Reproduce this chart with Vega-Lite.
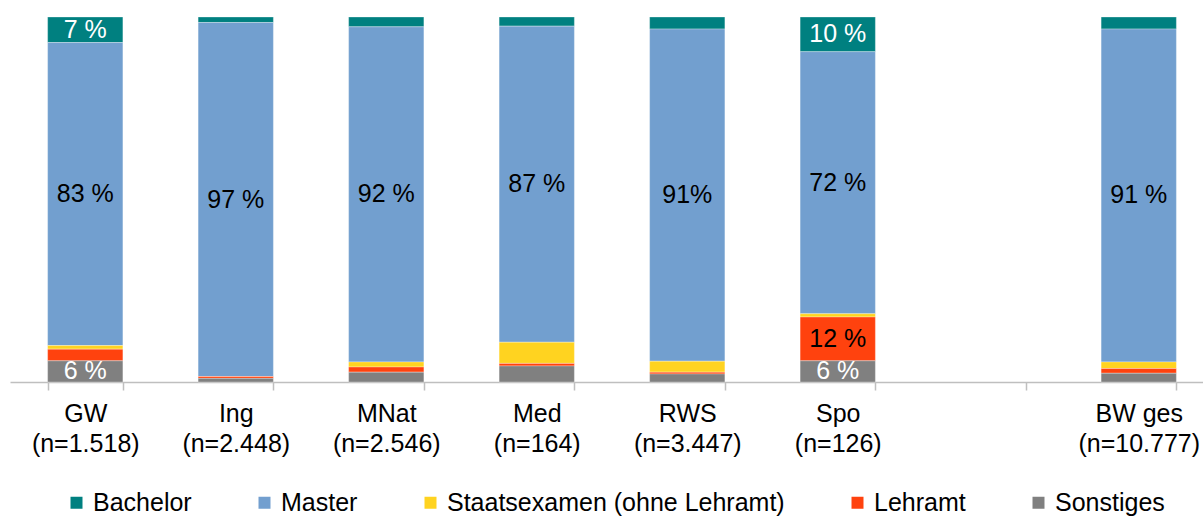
{
  "$schema": "https://vega.github.io/schema/vega-lite/v6.json",
  "width": 1193,
  "height": 365,
  "autosize": "none",
  "padding": {"left": 10, "top": 17, "right": 0, "bottom": 134},
  "background": "white",
  "config": {"font": "Liberation Sans", "view": {"stroke": null}},
  "data": {"values": [
    {"cat": "GW|(n=1.518)", "s": "Bachelor", "k": 5, "v": 7, "lab": "7 %"},
    {"cat": "GW|(n=1.518)", "s": "Master", "k": 4, "v": 83, "lab": "83 %"},
    {"cat": "GW|(n=1.518)", "s": "Staatsexamen (ohne Lehramt)", "k": 3, "v": 1, "lab": ""},
    {"cat": "GW|(n=1.518)", "s": "Lehramt", "k": 2, "v": 3.2, "lab": ""},
    {"cat": "GW|(n=1.518)", "s": "Sonstiges", "k": 1, "v": 5.8, "lab": "6 %"},
    {"cat": "Ing|(n=2.448)", "s": "Bachelor", "k": 5, "v": 1.5, "lab": ""},
    {"cat": "Ing|(n=2.448)", "s": "Master", "k": 4, "v": 97, "lab": "97 %"},
    {"cat": "Ing|(n=2.448)", "s": "Staatsexamen (ohne Lehramt)", "k": 3, "v": 0, "lab": ""},
    {"cat": "Ing|(n=2.448)", "s": "Lehramt", "k": 2, "v": 0.5, "lab": ""},
    {"cat": "Ing|(n=2.448)", "s": "Sonstiges", "k": 1, "v": 1, "lab": ""},
    {"cat": "MNat|(n=2.546)", "s": "Bachelor", "k": 5, "v": 2.7, "lab": ""},
    {"cat": "MNat|(n=2.546)", "s": "Master", "k": 4, "v": 91.8, "lab": "92 %"},
    {"cat": "MNat|(n=2.546)", "s": "Staatsexamen (ohne Lehramt)", "k": 3, "v": 1.4, "lab": ""},
    {"cat": "MNat|(n=2.546)", "s": "Lehramt", "k": 2, "v": 1.4, "lab": ""},
    {"cat": "MNat|(n=2.546)", "s": "Sonstiges", "k": 1, "v": 2.7, "lab": ""},
    {"cat": "Med|(n=164)", "s": "Bachelor", "k": 5, "v": 2.5, "lab": ""},
    {"cat": "Med|(n=164)", "s": "Master", "k": 4, "v": 86.6, "lab": "87 %"},
    {"cat": "Med|(n=164)", "s": "Staatsexamen (ohne Lehramt)", "k": 3, "v": 5.8, "lab": ""},
    {"cat": "Med|(n=164)", "s": "Lehramt", "k": 2, "v": 0.7, "lab": ""},
    {"cat": "Med|(n=164)", "s": "Sonstiges", "k": 1, "v": 4.4, "lab": ""},
    {"cat": "RWS|(n=3.447)", "s": "Bachelor", "k": 5, "v": 3.3, "lab": ""},
    {"cat": "RWS|(n=3.447)", "s": "Master", "k": 4, "v": 91, "lab": "91%"},
    {"cat": "RWS|(n=3.447)", "s": "Staatsexamen (ohne Lehramt)", "k": 3, "v": 3, "lab": ""},
    {"cat": "RWS|(n=3.447)", "s": "Lehramt", "k": 2, "v": 0.5, "lab": ""},
    {"cat": "RWS|(n=3.447)", "s": "Sonstiges", "k": 1, "v": 2.2, "lab": ""},
    {"cat": "Spo|(n=126)", "s": "Bachelor", "k": 5, "v": 9.5, "lab": "10 %"},
    {"cat": "Spo|(n=126)", "s": "Master", "k": 4, "v": 71.8, "lab": "72 %"},
    {"cat": "Spo|(n=126)", "s": "Staatsexamen (ohne Lehramt)", "k": 3, "v": 0.9, "lab": ""},
    {"cat": "Spo|(n=126)", "s": "Lehramt", "k": 2, "v": 12, "lab": "12 %"},
    {"cat": "Spo|(n=126)", "s": "Sonstiges", "k": 1, "v": 5.8, "lab": "6 %"},
    {"cat": "BW ges|(n=10.777)", "s": "Bachelor", "k": 5, "v": 3.3, "lab": ""},
    {"cat": "BW ges|(n=10.777)", "s": "Master", "k": 4, "v": 91.2, "lab": "91 %"},
    {"cat": "BW ges|(n=10.777)", "s": "Staatsexamen (ohne Lehramt)", "k": 3, "v": 1.8, "lab": ""},
    {"cat": "BW ges|(n=10.777)", "s": "Lehramt", "k": 2, "v": 1.3, "lab": ""},
    {"cat": "BW ges|(n=10.777)", "s": "Sonstiges", "k": 1, "v": 2.4, "lab": ""}
  ]},
  "transform": [
    {"stack": "v", "groupby": ["cat"], "sort": [{"field": "k", "order": "ascending"}], "as": ["y0", "y1"]},
    {"calculate": "(datum.y0 + datum.y1) / 2", "as": "ymid"}
  ],
  "encoding": {
    "x": {
      "field": "cat",
      "type": "nominal",
      "scale": {
        "domain": ["GW|(n=1.518)", "Ing|(n=2.448)", "MNat|(n=2.546)", "Med|(n=164)", "RWS|(n=3.447)", "Spo|(n=126)", " ", "BW ges|(n=10.777)"],
        "range": [0, 1204],
        "paddingInner": 0.5,
        "paddingOuter": 0.25
      },
      "axis": {
        "title": null,
        "labelExpr": "isString(datum.value) ? split(datum.value, '|') : ''",
        "labelAngle": 0,
        "labelFontSize": 25,
        "labelColor": "black",
        "labelLineHeight": 30,
        "labelPadding": 11,
        "labelBaseline": "top",
        "tickBand": "extent",
        "tickSize": 8,
        "tickColor": "#bfbfbf",
        "tickWidth": 1.5,
        "domainColor": "#bfbfbf",
        "domainWidth": 1.5,
        "grid": false
      }
    }
  },
  "layer": [
    {
      "mark": {"type": "bar", "stroke": "white", "strokeWidth": 0.5, "strokeOpacity": 0.6},
      "encoding": {
        "y": {"field": "y0", "type": "quantitative", "scale": {"domain": [0, 100]}, "axis": null},
        "y2": {"field": "y1"},
        "color": {
          "field": "s",
          "type": "nominal",
          "scale": {
            "domain": ["Bachelor", "Master", "Staatsexamen (ohne Lehramt)", "Lehramt", "Sonstiges"],
            "range": ["#008080", "#729fcf", "#ffd320", "#ff420e", "#808080"]
          },
          "legend": {
            "title": null,
            "orient": "none",
            "direction": "horizontal",
            "legendX": 54,
            "legendY": 473,
            "padding": 0,
            "symbolType": "square",
            "symbolSize": 144,
            "symbolStrokeWidth": 0,
            "symbolOpacity": 1,
            "labelFontSize": 25,
            "labelColor": "black",
            "labelOffset": 4,
            "columnPadding": 60,
            "labelLimit": 0
          }
        }
      }
    },
    {
      "mark": {"type": "text", "fontSize": 25, "baseline": "middle", "align": "center"},
      "encoding": {
        "y": {"field": "ymid", "type": "quantitative"},
        "text": {"field": "lab"},
        "color": {
          "condition": {"test": "datum.s === 'Bachelor' || datum.s === 'Sonstiges'", "value": "white"},
          "value": "black"
        }
      }
    }
  ]
}
